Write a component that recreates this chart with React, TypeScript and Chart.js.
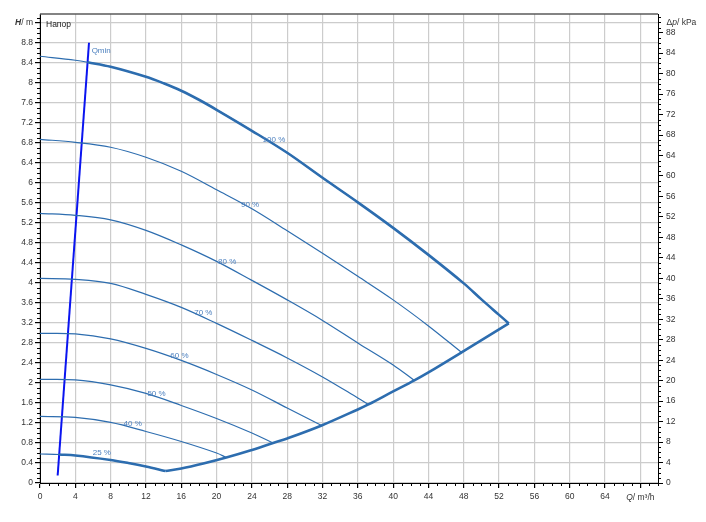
import React, { useEffect, useRef } from 'react';
import { Chart, registerables } from 'chart.js';
Chart.register(...registerables);

const FONT = '"Liberation Sans", Arial, Helvetica, sans-serif';
const CURVE = '#2d6daf';
const LABEL_COLOR = '#4d80bf';
const TICK_COLOR = '#333333';

// Axis ranges / ticks
const X_MAX = 70;
const Y_MAX = 9.374;
const Y2_MAX = 91.65;
const xTicks = [0, 4, 8, 12, 16, 20, 24, 28, 32, 36, 40, 44, 48, 52, 56, 60, 64, 68];
const yTicks = [0, 0.4, 0.8, 1.2, 1.6, 2, 2.4, 2.8, 3.2, 3.6, 4, 4.4, 4.8, 5.2, 5.6, 6, 6.4, 6.8, 7.2, 7.6, 8, 8.4, 8.8, 9.2];
const y2Ticks = [0, 4, 8, 12, 16, 20, 24, 28, 32, 36, 40, 44, 48, 52, 56, 60, 64, 68, 72, 76, 80, 84, 88];
const xMinor = Array.from({ length: 71 }, (_, i) => i).filter((v) => v % 4 !== 0);
const yMinor = Array.from({ length: 94 }, (_, i) => i / 10).filter((_, i) => i % 4 !== 0);
const y2Minor = Array.from({ length: 92 }, (_, i) => i).filter((v) => v % 4 !== 0);

// Pump curves (Q m³/h, H m)
const q100 = [0, 4, 5.4, 8, 12, 14, 16, 18, 20, 24, 28, 32, 36, 40, 44, 48, 50, 52, 53.1];
const h100 = [8.53, 8.45, 8.41, 8.32, 8.12, 7.99, 7.84, 7.66, 7.46, 7.04, 6.6, 6.1, 5.61, 5.1, 4.56, 3.99, 3.67, 3.36, 3.19];
const q90 = [0, 4, 8, 12, 16, 20, 24, 28, 32, 36, 40, 44, 47.75];
const h90 = [6.87, 6.81, 6.71, 6.51, 6.23, 5.86, 5.48, 5.04, 4.59, 4.13, 3.66, 3.14, 2.61];
const q80 = [0, 4, 8, 12, 16, 20, 24, 28, 32, 36, 40, 42.4];
const h80 = [5.39, 5.35, 5.26, 5.05, 4.76, 4.43, 4.05, 3.66, 3.25, 2.8, 2.36, 2.05];
const q70 = [0, 4, 8, 12, 16, 20, 24, 28, 32, 36, 37.2];
const h70 = [4.09, 4.07, 3.99, 3.77, 3.51, 3.19, 2.85, 2.5, 2.12, 1.7, 1.57];
const q60 = [0, 4, 8, 12, 16, 20, 24, 28, 31.9];
const h60 = [2.99, 2.98, 2.88, 2.69, 2.45, 2.17, 1.86, 1.5, 1.15];
const q50 = [0, 4, 8, 12, 16, 20, 24, 26.4];
const h50 = [2.07, 2.06, 1.96, 1.79, 1.55, 1.29, 1.0, 0.8];
const q40 = [0, 4, 8, 12, 16, 20, 21.1];
const h40 = [1.33, 1.31, 1.21, 1.03, 0.83, 0.6, 0.51];
const q25 = [0, 2.2, 4, 8, 10, 12, 14.2];
const h25 = [0.58, 0.57, 0.55, 0.46, 0.4, 0.33, 0.24];
// Lower boundary (end points of speed curves)
const qLow = [14.2, 16, 18.5, 21.1, 23.8, 26.4, 28, 31.9, 36, 37.2, 40, 42.4, 44, 47.75, 53.1];
const hLow = [0.24, 0.29, 0.39, 0.51, 0.65, 0.8, 0.89, 1.15, 1.47, 1.57, 1.83, 2.05, 2.21, 2.61, 3.19];
// Qmin line
const qQmin = [2.0, 5.55];
const hQmin = [0.15, 8.8];
const QMIN_ON_100 = 5.4;
const QMIN_ON_25 = 2.2;

// Curve labels
const curveLabels = ['100 %', '90 %', '80 %', '70 %', '60 %', '50 %', '40 %', '25 %'];
const curveLabelQ = [26.5, 23.8, 21.2, 18.5, 15.8, 13.2, 10.5, 7.0];
const curveLabelH = [6.86, 5.56, 4.42, 3.41, 2.54, 1.79, 1.18, 0.6];

const pts = (q: number[], h: number[]) => q.map((x, i) => ({ x, y: h[i] }));

function drawRich(ctx: CanvasRenderingContext2D, parts: [string, string][], x: number, y: number, align: 'left' | 'right' | 'center') {
  let total = 0;
  for (const [t, f] of parts) {
    ctx.font = f;
    total += ctx.measureText(t).width;
  }
  let cx = align === 'left' ? x : align === 'right' ? x - total : x - total / 2;
  ctx.textAlign = 'left';
  ctx.textBaseline = 'middle';
  for (const [t, f] of parts) {
    ctx.font = f;
    ctx.fillText(t, cx, y);
    cx += ctx.measureText(t).width;
  }
}

const overlay = {
  id: 'overlay',
  afterDraw(chart: any) {
    const { ctx, chartArea: a, scales } = chart;
    const x = scales.x, y = scales.y, y2 = scales.y2;
    ctx.save();
    // minor ticks
    ctx.strokeStyle = '#000';
    ctx.lineWidth = 1;
    ctx.beginPath();
    xMinor.forEach((v) => {
      const px = Math.round(x.getPixelForValue(v)) + 0.5;
      ctx.moveTo(px, a.bottom);
      ctx.lineTo(px, a.bottom + 3);
    });
    yMinor.forEach((v) => {
      const py = Math.round(y.getPixelForValue(v)) + 0.5;
      ctx.moveTo(a.left, py);
      ctx.lineTo(a.left - 3, py);
    });
    y2Minor.forEach((v) => {
      const py = Math.round(y2.getPixelForValue(v)) + 0.5;
      ctx.moveTo(a.right, py);
      ctx.lineTo(a.right + 3, py);
    });
    ctx.stroke();
    // top border
    ctx.strokeStyle = '#5a5a5a';
    ctx.lineWidth = 1.5;
    ctx.beginPath();
    ctx.moveTo(a.left, a.top);
    ctx.lineTo(a.right, a.top);
    ctx.stroke();

    const fs = 8.5;
    const normal = `${fs}px ${FONT}`;
    const italic = `italic ${fs}px ${FONT}`;
    const boldItalic = `italic bold ${fs}px ${FONT}`;
    ctx.fillStyle = TICK_COLOR;
    const topY = y.getPixelForValue(9.2);
    drawRich(ctx, [['H', boldItalic], ['/ m', normal]], a.left - 7, topY, 'right');
    ctx.fillStyle = '#222';
    drawRich(ctx, [['Напор', normal]], a.left + 6, topY + 2, 'left');
    ctx.fillStyle = TICK_COLOR;
    drawRich(ctx, [['Δ', normal], ['p', italic], ['/ kPa', normal]], a.right + 8.5, topY, 'left');
    drawRich(ctx, [['Q', italic], ['/ m³/h', normal]], x.getPixelForValue(68), a.bottom + 15, 'center');

    // curve labels
    ctx.fillStyle = LABEL_COLOR;
    const lf = `8px ${FONT}`;
    curveLabels.forEach((t, i) => {
      drawRich(ctx, [[t, lf]], x.getPixelForValue(curveLabelQ[i]), y.getPixelForValue(curveLabelH[i]), 'center');
    });
    drawRich(ctx, [['Qmin', lf]], x.getPixelForValue(5.85), y.getPixelForValue(8.64), 'left');
    ctx.restore();
  },
};

export default function App() {
  const ref = useRef<HTMLCanvasElement>(null);
  useEffect(() => {
    if (!ref.current) return;
    const thin = (q: number[], h: number[]) => ({
      data: pts(q, h),
      borderColor: CURVE,
      borderWidth: 1.2,
      showLine: true,
      pointRadius: 0,
      tension: 0.35,
    });
    const thick = (data: { x: number; y: number }[]) => ({
      data,
      borderColor: CURVE,
      borderWidth: 2.6,
      showLine: true,
      pointRadius: 0,
      tension: 0.35,
    });
    const datasets: any[] = [
      thin(q100, h100),
      thin(q90, h90),
      thin(q80, h80),
      thin(q70, h70),
      thin(q60, h60),
      thin(q50, h50),
      thin(q40, h40),
      thin(q25, h25),
      thick(pts(q100, h100).filter((p) => p.x >= QMIN_ON_100)),
      thick(pts(q25, h25).filter((p) => p.x >= QMIN_ON_25)),
      thick(pts(qLow, hLow)),
      {
        data: pts(qQmin, hQmin),
        borderColor: '#0a14f0',
        borderWidth: 2,
        showLine: true,
        pointRadius: 0,
      },
    ];
    const tickFont = { family: FONT, size: 8.5 };
    const chart = new Chart(ref.current, {
      type: 'scatter',
      data: { datasets },
      plugins: [overlay],
      options: {
        animation: false,
        responsive: false,
        maintainAspectRatio: false,
        layout: { padding: { top: 14, left: 0, right: 0, bottom: 0 } },
        plugins: { legend: { display: false }, tooltip: { enabled: false } },
        elements: { point: { radius: 0 } },
        scales: {
          x: {
            type: 'linear',
            min: 0,
            max: X_MAX,
            afterBuildTicks: (axis: any) => {
              axis.ticks = xTicks.map((v) => ({ value: v }));
            },
            afterFit: (s: any) => {
              s.height = 39;
            },
            grid: { color: '#cccccc', lineWidth: 1.2, tickColor: '#000', tickLength: 5, drawTicks: true },
            border: { display: true, color: '#000', width: 1 },
            ticks: {
              autoSkip: false,
              maxRotation: 0,
              padding: 4,
              color: TICK_COLOR,
              font: tickFont,
              callback: (v: any) => (v === 68 ? '' : String(v)),
            },
          },
          y: {
            type: 'linear',
            position: 'left',
            min: 0,
            max: Y_MAX,
            afterBuildTicks: (axis: any) => {
              axis.ticks = yTicks.map((v) => ({ value: v }));
            },
            afterFit: (s: any) => {
              s.width = 40;
            },
            grid: { color: '#cccccc', lineWidth: 1.2, tickColor: '#000', tickLength: 5, drawTicks: true },
            border: { display: true, color: '#000', width: 1 },
            ticks: {
              autoSkip: false,
              padding: 2,
              color: TICK_COLOR,
              font: tickFont,
              callback: (v: any) => (v === 9.2 ? '' : String(v)),
            },
          },
          y2: {
            type: 'linear',
            position: 'right',
            min: 0,
            max: Y2_MAX,
            afterBuildTicks: (axis: any) => {
              axis.ticks = y2Ticks.map((v) => ({ value: v }));
            },
            afterFit: (s: any) => {
              s.width = 48;
            },
            grid: { drawOnChartArea: false, tickColor: '#000', tickLength: 5, drawTicks: true },
            border: { display: true, color: '#000', width: 1 },
            ticks: {
              autoSkip: false,
              padding: 3,
              color: TICK_COLOR,
              font: tickFont,
              callback: (v: any) => String(v),
            },
          },
        },
      } as any,
    });
    return () => chart.destroy();
  }, []);
  return (
    <div style={{ position: 'absolute', left: 0, top: 0, width: 706, height: 522, background: '#fff' }}>
      <canvas ref={ref} width={706} height={522} style={{ display: 'block', width: 706, height: 522 }} />
    </div>
  );
}
